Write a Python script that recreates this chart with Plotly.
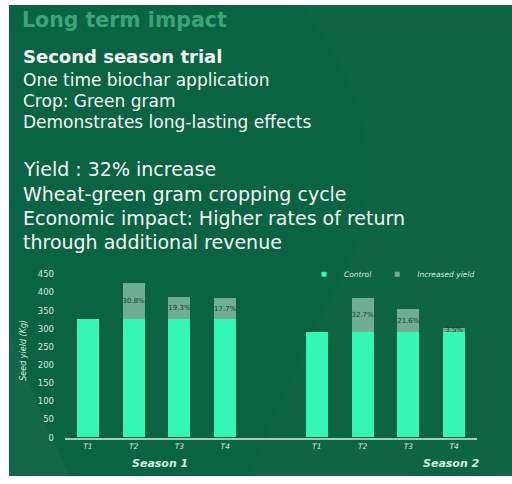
import plotly.graph_objects as go

# ---- data ----
trials = ["T1", "T2", "T3", "T4", "T1", "T2", "T3", "T4"]
slot = [0, 1, 2, 3, 5, 6, 7, 8]
control = [325, 325, 325, 325, 290, 290, 290, 290]
increase_pct = [None, 30.8, 19.3, 17.7, None, 32.7, 21.6, 3.5]
y_ticks = [0, 50, 100, 150, 200, 250, 300, 350, 400, 450]
series_names = ["Control", "Increased yield"]

increase = [c * p / 100 if p is not None else None for c, p in zip(control, increase_pct)]

W, H = 512, 484
BG = "#0a6342"
MINT = "#35f7b5"
GREYGREEN = "#6fae95"
LIGHT = "#d2ebe0"
FONT = "DejaVu Sans"


def px(x):
    return x / W


def py(y):
    return 1 - y / H


fig = go.Figure()

fig.add_trace(go.Bar(
    x=slot, y=control, name=series_names[0], marker_color=MINT,
    marker_line_width=0, width=0.48, showlegend=False,
))
fig.add_trace(go.Bar(
    x=slot, y=increase, name=series_names[1], marker_color=GREYGREEN,
    marker_line_width=0, width=0.48, showlegend=False,
))

# compact legend entries with small square keys
for name, col in zip(series_names, [MINT, GREYGREEN]):
    fig.add_trace(go.Scatter(
        x=[None], y=[None], mode="markers", name=name,
        marker=dict(symbol="square", size=5, color=col),
    ))

# percentage labels centred in the increase segment
lab_x, lab_y, lab_t = [], [], []
for s, c, inc, p in zip(slot, control, increase, increase_pct):
    if p is None:
        continue
    lab_x.append(s)
    lab_y.append(c + inc / 2)
    lab_t.append(f"{p:.1f}%")
fig.add_trace(go.Scatter(
    x=lab_x, y=lab_y, text=lab_t, mode="text", showlegend=False,
    textfont=dict(family=FONT, size=7, color="#1c3a2c"), cliponaxis=False,
    hoverinfo="skip",
))

shapes = [
    # white frame strip on the left and bottom, green panel
    dict(type="rect", xref="paper", yref="paper", x0=px(9), x1=1, y0=py(481), y1=1,
         fillcolor=BG, line_width=0, layer="below"),
    # faint lighter swoosh on the right
    dict(type="path", xref="paper", yref="paper", layer="below", line_width=0,
         fillcolor="rgba(255,255,255,0.015)",
         path=f"M {px(300)},{py(0)} Q {px(420)},{py(150)} {px(330)},{py(300)} "
              f"Q {px(280)},{py(400)} {px(250)},{py(481)} L 1,{py(481)} L 1,{py(0)} Z"),
    # lighter patch lower left
    dict(type="path", xref="paper", yref="paper", layer="below", line_width=0,
         fillcolor="rgba(255,255,255,0.03)",
         path=f"M {px(9)},{py(330)} Q {px(40)},{py(420)} {px(70)},{py(481)} L {px(9)},{py(481)} Z"),
]

annotations = []


def txt(s, x, y, size, color="#f2f7f4", bold=False, **kw):
    annotations.append(dict(
        text=f"<b>{s}</b>" if bold else s, x=px(x), y=py(y), xref="paper", yref="paper",
        xanchor=kw.pop("xanchor", "left"), yanchor="middle", showarrow=False,
        font=dict(family=FONT, size=size, color=color, **kw.pop("font", {})), **kw,
    ))


txt("Long term impact", 20, 15, 20.5, color="#3aa676", bold=True)
txt("Second season trial", 21, 53, 18, bold=True)
txt("One time biochar application", 21, 77, 17)
txt("Crop: Green gram", 21, 98, 17)
txt("Demonstrates long-lasting effects", 21, 119, 17)
txt("Yield : 32% increase", 21, 167, 19)
txt("Wheat-green gram cropping cycle", 21, 193, 19)
txt("Economic impact: Higher rates of return", 21, 217, 19)
txt("through additional revenue", 21, 242, 19)

# axis captions
txt("Seed yield (Kg)", 24, 353, 8, color=LIGHT, xanchor="center", textangle=-90,
    font=dict(style="italic"))
txt("Season 1", 160, 468, 11, color=LIGHT, bold=True, xanchor="center",
    font=dict(style="italic"))
txt("Season 2", 482, 468, 11, color=LIGHT, bold=True, xanchor="right",
    font=dict(style="italic"))

fig.update_layout(
    width=W, height=H, margin=dict(l=0, r=0, t=0, b=0), autosize=False,
    paper_bgcolor="white", plot_bgcolor="rgba(0,0,0,0)",
    barmode="stack", bargap=0,
    shapes=shapes, annotations=annotations,
    showlegend=True,
    legend=dict(orientation="h", x=px(480), xanchor="right", y=py(275), yanchor="middle",
                traceorder="normal", itemwidth=30, tracegroupgap=0,
                bgcolor="rgba(0,0,0,0)", font=dict(family=FONT, size=7.5, color=LIGHT, style="italic")),
    xaxis=dict(domain=[px(65), px(477)], range=[-0.5, 8.5], tickmode="array",
               tickvals=slot, ticktext=trials, showgrid=False, zeroline=False,
               showline=True, linecolor="#9fcdb8", linewidth=2, ticks="",
               tickfont=dict(family=FONT, size=7.5, color=LIGHT, style="italic")),
    yaxis=dict(domain=[py(441.7), py(275)], range=[0, 450], tickmode="array",
               tickvals=y_ticks, showgrid=False, zeroline=False, showline=False,
               ticks="", ticklabelstandoff=10,
               tickfont=dict(family=FONT, size=8.5, color=LIGHT)),
)

fig.write_html("out.html")
